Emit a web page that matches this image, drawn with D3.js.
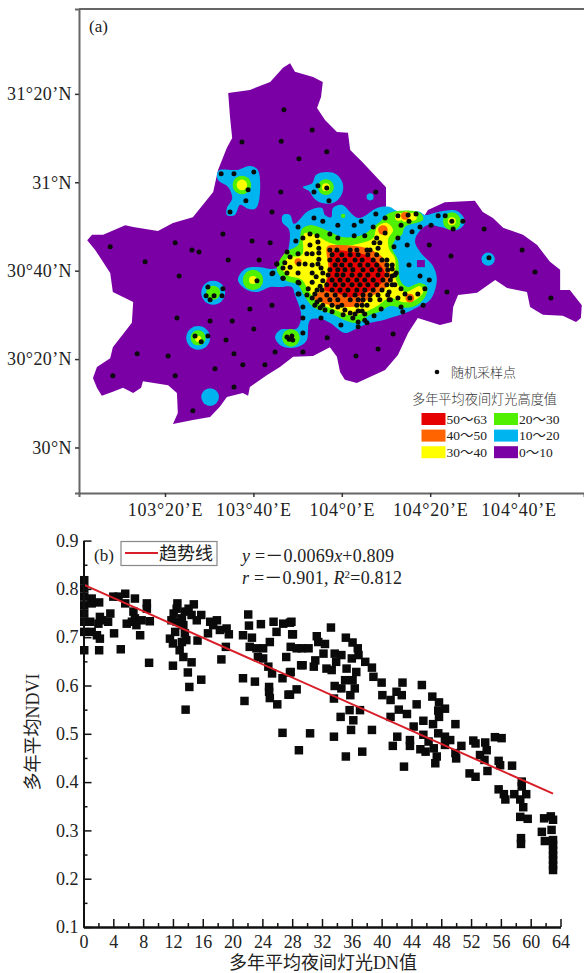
<!DOCTYPE html>
<html>
<head>
<meta charset="utf-8">
<style>
body { margin: 0; background: #fff; }
svg { display: block; }
text { font-family: "Liberation Serif", "Noto Sans CJK SC", serif; fill: #222; }
.cjk { font-family: "Noto Sans CJK SC", sans-serif; font-weight: 300; fill: #333; }
</style>
<script src="https://cdn.jsdelivr.net/npm/d3@7"></script>
</head>
<body>
<div id="chart"></div>
<script>
// map coordinates: [arc minutes east of 103deg, arc minutes north of 30deg]
var boundary = [[48.3,86.9],[49.4,85],[53.5,83.8],[55.7,82.7],[55.3,79.3],[54.4,76.8],[56.2,74.1],[58.9,71.4],[61.4,71.2],[61.9,67.3],[64.8,64.4],[70,58.9],[70,54.4],[72.7,53.3],[77,53.1],[78.8,52.6],[79.5,53.7],[83.3,55.5],[90.1,55.8],[91.9,53.3],[94.2,51.9],[96.5,49.7],[101,48.1],[104.2,45.8],[107.1,42],[109.4,40.2],[109.4,35.6],[111.6,35.6],[114.3,32.2],[114.1,29.3],[113,28.4],[110,29.8],[105.5,30],[102.6,31.8],[101.9,35.2],[97.4,36.1],[94.7,37.9],[90.6,35],[86.3,34.5],[85.2,31.8],[84.9,28.4],[82.2,27.7],[77.2,29.3],[75,25.9],[72.7,20.9],[69.8,17.5],[63.4,14.6],[60.7,15.3],[59.6,17.1],[58.9,20.5],[57.3,22.7],[53.5,20.7],[49,20.5],[46,18.2],[43.1,16.4],[39.2,13.7],[38.8,11.7],[37.6,12.3],[34,11.4],[32.4,9.2],[30.2,6.9],[26.3,6.2],[21.8,5.3],[22.9,7.8],[22.7,12.3],[20.7,14.1],[15,15],[14.6,13.5],[12.8,12.3],[10.5,13.5],[8.2,12.6],[5.7,11.7],[4.6,13.5],[3.7,15.7],[4.6,18.2],[7.6,20.2],[8.2,22.7],[12.5,28.2],[12.8,32.9],[8.2,35.2],[7.6,39.5],[4.2,44.7],[2.4,46.9],[3.5,48.1],[6,48.1],[11,50.3],[12.8,49.9],[18.4,49],[21.8,50.8],[26.3,52.1],[30.9,57.8],[32,62.8],[34,67.8],[35.2,70],[34.7,74.8],[34.3,80.2],[39.2,80.9],[43.8,82.7],[46.7,85.9]];

var blueMain = [[46.7,52.6],[48.3,52.6],[49.2,50.6],[52.4,53.5],[55.5,54.2],[56.2,52.6],[57.6,52.1],[58,54.2],[60,54.9],[63.7,51.9],[68,54.2],[70.9,54.4],[72.5,53.5],[77.7,53.3],[78.8,52.6],[81.8,53.3],[86.1,53.5],[87.9,51],[86.1,49.2],[82.2,49.9],[79.3,50.3],[77,48.1],[76.6,46.3],[77.9,44],[80.6,41.1],[81.5,37.9],[80,33.4],[77.2,31.8],[74.3,30.4],[69.3,28.8],[66.4,28.2],[63.4,27],[60.7,25.9],[57.3,28.2],[55.1,29.1],[52.8,28.8],[52.1,24.3],[51,23.2],[48.3,22.5],[46,23.2],[44.9,25],[46,26.6],[49.9,27],[50.8,30],[49.4,34.5],[48.7,36.3],[46,36.3],[43.8,36.3],[41,35.2],[38.6,35.6],[36.5,37.9],[38.1,40.4],[41.5,40.8],[44.2,40.4],[46.7,41.1],[47.8,44.2],[48.1,49.2],[46.5,51]];
var blueNorthwest = [[31.8,62.1],[32.4,62.8],[36.3,62.8],[39.2,63.7],[41,62.8],[41.3,56],[40.4,54],[38.8,54],[37,54.9],[35.8,52.6],[34,52.6],[34,54.2],[35.2,56.4],[34.3,58.9],[32,60.5]];
var blueNorth = [[51.2,58.9],[53.3,59.8],[54.2,61.7],[56.7,62.3],[58.9,61.7],[60.3,59.4],[59.8,56.9],[58,55.3],[55.5,55.3],[53.7,56.4],[52.6,58]];
var greenMain = [[51,49.4],[52.8,50.3],[57.3,48.8],[60,47.6],[64.8,48.1],[67.1,49.9],[68.6,51],[70.9,53.1],[77.7,53.1],[78.4,51.5],[74.3,49.9],[73.6,48.1],[72,46.9],[71.4,45.1],[72.7,42.4],[73.2,37.9],[74.8,36.3],[77.7,37.2],[79.3,36.3],[78.8,34],[76.6,32],[73.8,31.6],[70.9,32],[68.6,30.7],[66.4,30],[63.7,28.2],[60.7,28.8],[57.3,30.4],[53.5,31.8],[51.4,34.5],[50.1,36.8],[47.1,37.9],[45.3,40.2],[47.1,44],[50.1,45.8]];
var yellowMain = [[51.7,48.5],[53.9,48.1],[57.3,46.3],[60.7,45.6],[64.6,46.3],[67.1,47.4],[68,49.9],[70.2,50.8],[71.6,49.2],[70.5,47.2],[70.7,44.9],[72,42.9],[72.3,37.9],[74.3,35.2],[77.7,36.5],[78.4,35.2],[76.1,33.1],[73.8,32.9],[70.9,33.8],[68,32],[64.8,30.4],[62.3,29.8],[58,31.3],[54.4,32.9],[52.4,35.6],[51,37.9],[47.6,39],[46.5,40.6],[47.8,42.9],[51,43.6],[51.2,47.6]];
var orangeMain = [[56.7,45.4],[58.9,45.8],[65.7,45.1],[68,44],[69.3,42.9],[70.9,39.7],[70.9,37.4],[69.3,35.6],[66.4,34],[64.1,32.2],[60.3,31.8],[55.1,32.9],[53.5,34],[55.8,36.1],[56.9,40.6]];
var redMain = [[57.8,44.2],[62.5,44.2],[66.4,43.1],[69.1,40.8],[69.8,39],[68.6,36.8],[65.7,35.2],[62.5,34],[58.5,35],[56.2,35.6],[57.3,39.7]];
var purpleHole = [[77,42.4],[78.8,42.4],[78.8,40.8],[77,40.8]];

// small round towns: [lon min, lat min, radius in arc minutes]
var blueTowns = [[30.9,35,2.7],[27.5,24.8,2.7],[30.2,11.4,2],[93.1,42.6,1.5],[66.4,56.7,0.8]];
var greenTowns = [[37.4,59.4,2.1],[56.4,58.9,1.8],[39.9,37.9,2.3],[48.5,24.8,2],[30.9,35,1.6],[27.5,24.8,1.7],[84.9,51.2,2],[60.3,52.4,0.5]];
var yellowTowns = [[37.4,59.4,1.2],[56.4,58.9,0.9],[39.9,37.9,0.9],[48.5,24.8,0.8],[27.5,24.6,0.7],[84.9,51.2,0.9],[72.9,52.2,0.9],[74.5,52.2,1.2],[76.1,52.2,0.9]];
var orangeTowns = [[74.3,52.4,0.9],[69.3,49.2,1.1],[75.4,33.8,1],[50.1,42,0.8]];

var samplePoints = [[46.9,76.4],[53.3,71.8],[37.4,69.1],[46.3,69.3],[56.6,66.9],[50.3,65.3],[32.7,61.9],[35.6,61.9],[40.1,62.3],[38.8,58.3],[38.3,55.8],[34.7,53.3],[46.2,57.8],[44.2,53.3],[54.6,59.2],[56.6,58.7],[53.7,57.8],[57.1,55.8],[53.7,51.9],[55.7,51.2],[50.1,49.9],[33.1,48.3],[39.7,46.7],[43.8,46.3],[22.3,46.3],[26.1,44.7],[27.7,44.2],[7.6,45.4],[49.6,46.7],
[15.5,42],[23.2,38.8],[34.3,42.4],[41.3,42.4],[40.8,37.7],[45.3,41.5],[44.2,39.3],[46.7,38.3],[29.7,36.3],[33.1,35.9],[29.3,34.3],[31.1,34.3],[32.9,34.3],[30.2,33.4],[44.2,32.2],[39.2,31.3],[22.7,29.3],[30.2,28.6],[35.2,28.6],[40.1,26.8],[26.8,25.2],[29.7,25.2],[28.2,23.9],[33.8,24.3],[47.6,25],[48.7,25.2],[48.1,24.5],[48.9,24.3],[51.2,25.9],[51.2,21.6],[44.9,21.6],[35.6,21.2],[13.7,21.2],[20.7,20.7],[37.6,18.7],[42.6,18.7],[31.3,17.8],[8.2,16.2],[22.3,16.2],[35.6,13.7],[26.3,8.3],[56.7,24.8],[55.3,29.3],[51.2,29.3],[51.2,31.8],[50.3,34.7],[50.3,37.2],
[67.7,57.8],[67.7,52.8],[64.4,51.2],[62.8,50.3],[59.1,50.3],[59.1,47.4],[62.8,47.9],[65.2,47.9],[67.1,49.9],[69.8,51.9],[69.8,48.5],[72.7,52.4],[75,52.6],[76.8,52.8],[75.2,51.2],[73.4,50.3],[72.7,47.4],[75.9,48.8],[77.7,49.9],[80.2,50.3],[74.8,45.8],[71.8,45.4],[81.8,52.4],[83.4,52.4],[84.9,51.2],[87.4,51.2],[85.2,49.4],[92.2,49.4],[79.8,45.8],[84.7,43.3],[93.3,42.9],[100.8,44.7],[103.7,39.7],[107.3,33.8],[83.8,35.2],[75.2,41.3],[77.7,38.8],[79.8,37.9],[78.8,35.9],[77.2,34.7],[75.4,33.8],[73.4,35.9],[74.3,34.7],[72.7,33.8],[70.7,33.4],[70.7,35.2],[71.4,36.8],[72.3,39.5],[71.4,40.4],[71.4,38.8],[68.9,31.3],[78.4,32.2],[73.4,31.8],[73.8,30.7],[67.3,29.8],[71.6,25.7],[68.2,22.3],[63.2,20.7],[59.8,27.7],[63.7,27.3],[65.7,28.2],[65.2,30.2],[63,30.2],
[52.8,48.3],[54.4,47.9],[51.2,47.4],[57.3,48.3],[67.9,47.4],[68.6,46.3],[67.3,46.3],[68.2,45.1],[54.6,46.5],[54.8,45.1],[52.8,45.8],[52.1,43.8],[53.3,43.8],[54.8,44],[54.8,42.6],[50.1,43.8],[47.6,44.2],[48.3,43.1],[47.1,41.8],[48.3,40.8],[46.7,40.6],[47.6,39.5],[45.3,41.5],[44.4,39.5],[46.7,38.3],[50.3,41.5],[51.7,41.5],[53.3,41.3],[54.6,41.5],[50.1,39.5],[53.3,39.5],[55.3,40.6],[55.7,39.5],[54.2,38.6],[55.7,37.7],[53.3,37.4],[50.1,37.4],[55.1,36.5],[54.4,35.6],[52.4,35.9],[53.9,34.7],[52.1,34.5],[50.1,34.7],[53.3,33.8],[54.4,32.9],[55.1,31.6],[56.2,31.1],[57.8,30.7],[59.1,31.8],[60.7,31.1],[60.3,30],[61.9,30.4],[62.5,29.3],[63.7,28.4],[65.2,28.8],
[57.3,44.7],[58.9,44.7],[61.9,44.7],[63.4,44.7],[65.7,44.7],[66.4,44.7],
[57.8,43.6],[60,43.6],[61.9,43.6],[63.7,43.6],[65.9,43.6],[67.9,43.6],
[57.3,42.4],[59.1,42.4],[60.7,42.4],[63,42.4],[64.6,42.4],[67.1,42.4],[69.1,42.4],[70.2,42.4],
[58.5,41.3],[60,41.3],[61.9,41.3],[64.1,41.3],[65.9,41.3],[67.9,41.3],[70.2,41.3],[71.4,41.3],
[57.3,40.2],[59.1,40.2],[60.7,40.2],[62.5,40.2],[64.8,40.2],[66.8,40.2],[68.6,40.2],[70.4,40.2],
[56.9,39],[58.9,39],[60.3,39],[62.3,39],[64.1,39],[65.9,39],[68.2,39],[70.2,39],[72,39],
[57.8,37.9],[59.6,37.9],[61.4,37.9],[63.4,37.9],[65.2,37.9],[67.1,37.9],[69.3,37.9],[71,37.9],
[56.6,36.8],[58.5,36.8],[60.3,36.8],[62.3,36.8],[64.1,36.8],[65.9,36.8],[67.9,36.8],[70.2,36.8],[72,36.8],
[55.5,35.6],[57.8,35.6],[59.6,35.6],[61.4,35.6],[63.4,35.6],[65.2,35.6],[67.1,35.6],[69.1,35.6],
[56.6,34.5],[58.5,34.5],[60.7,34.5],[63,34.5],[64.8,34.5],[66.4,34.5],[68.2,34.5],[70.4,34.5],
[55.1,33.4],[57.3,33.4],[59.1,33.4],[61.9,33.4],[63.7,33.4],[64.8,33.4],[66.4,33.4],[68.6,33.4],[71,33.4],
[53.9,32.2],[55.7,32.2],[57.8,32.2],[60,32.2],[63.4,32.2],[64.6,32.2],[65.7,32.2],
[63.7,30.9],[64.6,30.9]];

var latTicks = [0,20,40,60,80];
var latLabels = ["30°N","30°20’N","30°40’N","31°N","31°20’N"];
var lonTicks = [20,40,60,80,100];
var lonLabels = ["103°20’E","103°40’E","104°0’E","104°20’E","104°40’E"];

var bandColors = ["#e60000","#ff6400","#ffff00","#50f000","#00b4f0","#7a00a5"];
var bandLabels = ["50～63","40～50","30～40","20～30","10～20","0～10"];

// panel b: [mean night light DN, mean NDVI]
var scatterPoints = [[0.1,.818],[0.1,.801],[0.1,.784],[0.1,.766],[0.1,.749],[0.1,.732],[0.1,.711],[0.1,.673],[1.1,.78],[1.1,.77],[2.1,.772],[.9,.732],[2.2,.742],[2.5,.735],[2,.728],[1.1,.711],[1.8,.704],[2.2,.697],[2.1,.673],[3.3,.732],[3.6,.749],[4.1,.708],[5,.675],[4,.784],[4.7,.784],[5.6,.79],[5.6,.77],[5.8,.728],[6.9,.78],[6.7,.753],[6.9,.739],[6.5,.732],[7.1,.725],[7.6,.704],[8.5,.77],[8.5,.759],[7.8,.735],[8.9,.733],[8.8,.647],
[12.6,.77],[12.5,.759],[12.1,.749],[11.8,.735],[13.6,.753],[14.1,.759],[14.8,.768],[14.5,.746],[13.2,.739],[12.5,.732],[15.2,.735],[15.8,.746],[13.4,.725],[11.6,.697],[12,.687],[12.3,.711],[13.6,.708],[13.8,.694],[13.2,.69],[12.9,.673],[13.4,.659],[15.3,.693],[12,.641],[14.5,.648],[14,.627],[14.2,.597],[15.8,.612],[13.7,.55],[17.4,.725],[16.7,.708],[17.9,.735],[17,.732],[18.3,.715],[19.2,.718],[19.5,.706],[19.1,.68],[18.5,.654],
[21.4,.704],[22.2,.724],[22.1,.747],[23.8,.727],[22.6,.699],[22.3,.68],[23.2,.677],[24.1,.677],[25,.69],[25.9,.711],[25.5,.732],[26.8,.728],[27.7,.73],[28,.706],[23.4,.659],[24.1,.656],[24.8,.639],[25.3,.625],[21.4,.615],[23,.608],[21.6,.568],[24.9,.597],[24.9,.587],[25,.574],[26,.561],[26.7,.615],[27.7,.627],[27.5,.581],[27.2,.659],[27.8,.68],[28.6,.677],[28.6,.592],[29.2,.642],
[27.9,.732],[28.1,.706],[29.3,.677],[30.2,.677],[27.8,.628],[27.7,.581],[29.4,.642],[31.3,.702],[31.5,.69],[32.4,.686],[33.2,.72],[32.2,.666],[31.1,.652],[30.9,.639],[32.6,.635],[33.3,.632],[33.7,.666],[34.6,.663],[33.9,.649],[35.3,.635],[36,.656],[36.9,.663],[36.6,.628],[35.2,.699],[36.1,.689],[36.8,.677],[37.8,.649],[38.7,.637],[38.9,.618],[40,.606],[42.8,.606],[45.4,.601],[33.7,.599],[34.6,.594],[35.1,.611],[36.1,.611],[36.4,.594],[35.8,.58],[33.6,.573],[37.1,.549],[35.7,.549],[34.5,.535],[36.2,.528],[40.1,.58],[41.2,.57],[42,.587],[42.7,.58],[42.3,.55],[43.4,.541],[41.2,.535],[44.7,.561],[46.8,.577],[47.7,.565],[48.5,.552],[47.6,.548],[47.7,.535],[45.6,.527],[46.9,.52],[49.9,.52],
[26.7,.502],[30.4,.501],[33.6,.494],[35.9,.508],[38.7,.508],[28.9,.466],[35.2,.453],[37.4,.463],[42.1,.494],[41.5,.475],[43,.432],[43.8,.487],[43.8,.475],[44.3,.515],[45.2,.468],[45.9,.463],[45.6,.498],[46.3,.484],[47,.47],[47.4,.453],[47.2,.439],[47.6,.501],[48.5,.494],[49.2,.487],[48.5,.477],[50.7,.475],[49.9,.46],[50,.449],[51.8,.418],[52.6,.411],[52.3,.486],[52.6,.48],[53.9,.482],[54.1,.466],[53.2,.456],[53.8,.446],[54.2,.423],[55.2,.493],[56.1,.491],[55.7,.444],[55.9,.435],[57.5,.434],[55.7,.385],[56.4,.375],[56.6,.364],[57.8,.375],[58.8,.401],[58.8,.391],[58.6,.364],[59.4,.375],[59,.348],[58.6,.328],[59.6,.324],[58.7,.284],[58.7,.272],[61.8,.325],[62.7,.329],[63,.322],[62.8,.301],[61.5,.297],[61.9,.278],[63,.28],[63,.27],[63,.259],[63,.249],[63,.239],[63,.228],[63,.218]];
var trendLine = [[0,.809],[63,.376]];
var dnTicks = d3.range(0,65,4);
var dnMinor = d3.range(2,64,4);
var ndviTicks = [.1,.2,.3,.4,.5,.6,.7,.8,.9];
var ndviMinor = [.15,.25,.35,.45,.55,.65,.75,.85];

var svg = d3.select("#chart").append("svg").attr("width",584).attr("height",973);

var blur = svg.append("defs").append("filter").attr("id","soft");
blur.append("feGaussianBlur").attr("stdDeviation",0.45);

// ---- panel a, map ----
var mx = d3.scaleLinear().domain([0.54,114.8]).range([79,584]),
    my = d3.scaleLinear().domain([-10.3,99.2]).range([493,9]),
    rs = d3.scaleLinear().domain([0,1]).range([0,4.42]);

var line = d3.line().x(function(d){return mx(d[0])}).y(function(d){return my(d[1])});
var blob = d3.line().x(function(d){return mx(d[0])}).y(function(d){return my(d[1])}).curve(d3.curveCatmullRomClosed.alpha(0.5));

var map = svg.append("g").attr("filter","url(#soft)");
map.append("path").attr("d",line(boundary)+"Z").attr("fill",bandColors[5]);

function zone(polys, towns, color) {
  polys.forEach(function(p){
    map.append("path").attr("d",blob(p)).attr("fill",color);
  });
  map.selectAll(null).data(towns).enter().append("circle")
    .attr("cx",function(d){return mx(d[0])})
    .attr("cy",function(d){return my(d[1])})
    .attr("r",function(d){return rs(d[2])})
    .attr("fill",color);
}
zone([blueMain,blueNorthwest,blueNorth],blueTowns,bandColors[4]);
map.append("path").attr("d",line(purpleHole)+"Z").attr("fill",bandColors[5]);
zone([greenMain],greenTowns,bandColors[3]);
zone([yellowMain],yellowTowns,bandColors[2]);
zone([orangeMain],orangeTowns,bandColors[1]);
zone([redMain],[],bandColors[0]);

svg.append("g").selectAll("circle").data(samplePoints).enter().append("circle")
  .attr("cx",function(d){return mx(d[0])})
  .attr("cy",function(d){return my(d[1])})
  .attr("r",2.5)
  .attr("fill","#0a0a0a");

// frame and ticks
var ma = svg.append("g").attr("transform","translate(79,0)")
  .call(d3.axisLeft(my).tickValues(latTicks).tickSize(4).tickPadding(3)
    .tickFormat(function(d,i){return latLabels[i]}));
var mb = svg.append("g").attr("transform","translate(0,493)")
  .call(d3.axisBottom(mx).tickValues(lonTicks).tickSize(4).tickPadding(6)
    .tickFormat(function(d,i){return lonLabels[i]}));
svg.append("line").attr("x1",79).attr("x2",584).attr("y1",9).attr("y2",9)
  .attr("stroke","#666").attr("stroke-width",2);
[ma,mb].forEach(function(a){
  a.selectAll(".domain").attr("stroke","#666").attr("stroke-width",2);
  a.selectAll(".tick line").attr("stroke","#333").attr("stroke-width",1.5);
  a.selectAll("text").style("font-family",null).attr("font-size",18).attr("fill","#222");
});
ma.selectAll("text").attr("letter-spacing",0.4);
mb.selectAll("text").attr("letter-spacing",0.8);

svg.append("text").attr("x",89).attr("y",32).attr("font-size",17).text("(a)");

// map legend
svg.append("circle").attr("cx",437).attr("cy",372).attr("r",2.3).attr("fill","#0a0a0a");
svg.append("text").attr("class","cjk").attr("x",451).attr("y",377).attr("font-size",13).text("随机采样点");
svg.append("text").attr("class","cjk").attr("x",412).attr("y",404).attr("font-size",13.2).text("多年平均夜间灯光高度值");

var lg = svg.selectAll(".lg").data(bandLabels).enter().append("g").attr("class","lg")
  .attr("transform",function(d,i){
    return "translate("+(i<3?421.5:494)+","+(413+(i%3)*16.6)+")";
  });
lg.append("rect").attr("width",24).attr("height",12)
  .attr("fill",function(d,i){return bandColors[i]});
lg.append("text").attr("x",25).attr("y",10.5).attr("font-size",13.5).attr("fill","#333").text(function(d){return d});

// ---- panel b, scatter ----
var x = d3.scaleLinear().domain([0,64]).range([83.5,560.5]),
    y = d3.scaleLinear().domain([.1,.9]).range([927,540.6]);

var sq = d3.symbol().type(d3.symbolSquare).size(72);
svg.append("g").selectAll("path").data(scatterPoints).enter().append("path")
  .attr("d",sq)
  .attr("transform",function(d){return "translate("+x(d[0])+","+y(d[1])+")"})
  .attr("fill","#0a0a0a");

svg.append("path")
  .attr("d",d3.line().x(function(d){return x(d[0])}).y(function(d){return y(d[1])})(trendLine))
  .attr("stroke","#d81e28").attr("stroke-width",2).attr("fill","none");

var ax = svg.append("g").attr("transform","translate(0,927)")
  .call(d3.axisBottom(x).tickValues(dnTicks).tickSizeInner(-8).tickSizeOuter(0).tickPadding(8)
    .tickFormat(d3.format("d")));
var ay = svg.append("g").attr("transform","translate(83.5,0)")
  .call(d3.axisLeft(y).tickValues(ndviTicks).tickSizeInner(-8).tickSizeOuter(0).tickPadding(5)
    .tickFormat(d3.format(".1f")));
var axm = svg.append("g").attr("transform","translate(0,927)")
  .call(d3.axisBottom(x).tickValues(dnMinor).tickSizeInner(-4).tickSizeOuter(0).tickFormat(""));
var aym = svg.append("g").attr("transform","translate(83.5,0)")
  .call(d3.axisLeft(y).tickValues(ndviMinor).tickSizeInner(-4).tickSizeOuter(0).tickFormat(""));
[ax,ay,axm,aym].forEach(function(a){
  a.selectAll(".domain").attr("stroke","#111").attr("stroke-width",2);
  a.selectAll(".tick line").attr("stroke","#111").attr("stroke-width",1.5);
  a.selectAll("text").style("font-family",null).attr("font-size",18).attr("fill","#222");
});

svg.append("text").attr("x",323).attr("y",969).attr("text-anchor","middle").attr("font-size",18).attr("fill","#333").text("多年平均夜间灯光DN值");
svg.append("text").attr("transform","translate(39,732) rotate(-90)").attr("text-anchor","middle")
  .attr("font-size",18).attr("fill","#333").text("多年平均NDVI");

// panel b legend and fit equation
svg.append("text").attr("x",94).attr("y",561).attr("font-size",17).text("(b)");
svg.append("rect").attr("x",121).attr("y",541.5).attr("width",96).attr("height",24)
  .attr("fill","#fff").attr("stroke","#888").attr("stroke-width",1.2);
svg.append("line").attr("x1",125).attr("x2",158).attr("y1",553).attr("y2",553)
  .attr("stroke","#d81e28").attr("stroke-width",2);
svg.append("text").attr("x",159).attr("y",560).attr("font-size",18).attr("fill","#333").text("趋势线");

var eq1 = svg.append("text").attr("x",242).attr("y",562).attr("font-size",18).attr("letter-spacing",0.2);
eq1.append("tspan").attr("font-style","italic").text("y");
eq1.append("tspan").text(" =－0.0069");
eq1.append("tspan").attr("font-style","italic").text("x");
eq1.append("tspan").text("+0.809");
var eq2 = svg.append("text").attr("x",242).attr("y",584).attr("font-size",18).attr("letter-spacing",0.2);
eq2.append("tspan").attr("font-style","italic").text("r");
eq2.append("tspan").text(" =－0.901, ");
eq2.append("tspan").attr("font-style","italic").text("R");
eq2.append("tspan").attr("font-size",11).attr("dy",-6).text("2");
eq2.append("tspan").attr("dy",6).text("=0.812");
</script>
</body>
</html>
